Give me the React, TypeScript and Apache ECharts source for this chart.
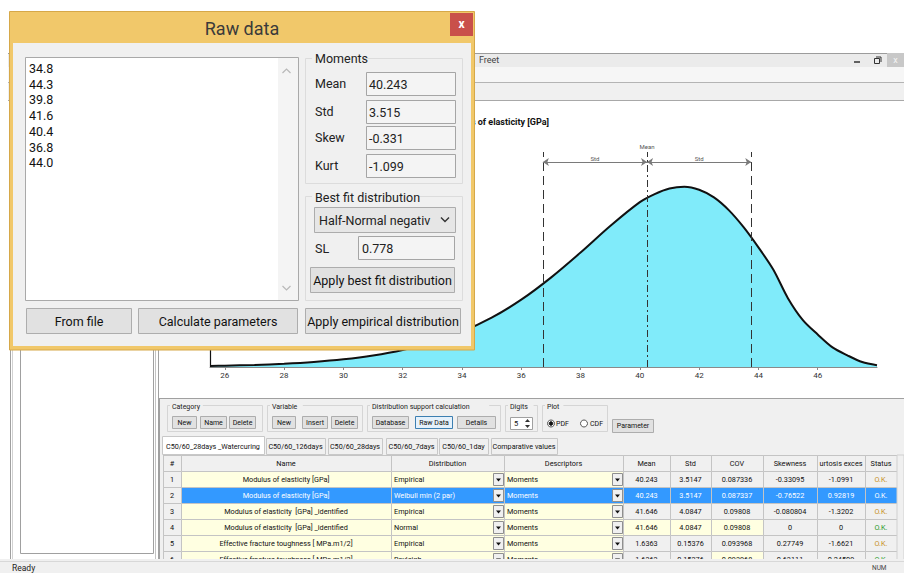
import React, { useEffect, useRef } from "react";
import * as echarts from "echarts";

// ---------- data ----------
const rawValues = ["34.8", "44.3", "39.8", "41.6", "40.4", "36.8", "44.0"];
const momentLabels = ["Mean", "Std", "Skew", "Kurt"];
const momentValues = ["40.243", "3.515", "-0.331", "-1.099"];
const meanValue = 40.243;
const stdValue = 3.515;
const bestFitName = "Half-Normal negativ";
const slValue = "0.778";
const chartTitle = "Modulus of elasticity [GPa]";

// density curve (x in GPa, relative density)
const curveX = [25.5, 26, 27, 28, 29, 30, 31, 32, 33, 34, 35, 36, 37, 38, 39, 40, 40.5, 41, 41.5, 42, 42.5, 43, 43.5, 44, 44.5, 45, 45.5, 46, 46.5, 47, 47.5, 48];
const curveY = [0.00067, 0.00085, 0.00137, 0.00216, 0.00335, 0.00512, 0.00769, 0.01136, 0.0165, 0.02356, 0.0329, 0.04496, 0.0597, 0.07645, 0.09415, 0.1101, 0.1155, 0.1192, 0.1204, 0.1184, 0.1133, 0.1048, 0.0934, 0.0799, 0.0651, 0.0458, 0.0313, 0.0217, 0.0131, 0.0078, 0.0033, 0.0012];
const xTickValues = [26, 28, 30, 32, 34, 36, 38, 40, 42, 44, 46];

const tabNames = ["C50/60_28days _Watercuring", "C50/60_126days", "C50/60_28days", "C50/60_7days", "C50/60_1day", "Comparative values"];
const tableHeaders = ["#", "Name", "Distribution", "Descriptors", "Mean", "Std", "COV", "Skewness", "urtosis exces", "Status"];
const rowNames = [
  "Modulus of elasticity [GPa]",
  "Modulus of elasticity [GPa]",
  "Modulus of elasticity  [GPa] _identified",
  "Modulus of elasticity  [GPa] _identified",
  "Effective fracture toughness [ MPa.m1/2]",
  "Effective fracture toughness [ MPa.m1/2]",
];
const rowDists = ["Empirical", "Weibull min (2 par)", "Empirical", "Normal", "Empirical", "Rayleigh"];
const rowDescr = ["Moments", "Moments", "Moments", "Moments", "Moments", "Moments"];
const rowMean = ["40.243", "40.243", "41.646", "41.646", "1.6363", "1.6363"];
const rowStd = ["3.5147", "3.5147", "4.0847", "4.0847", "0.15376", "0.15376"];
const rowCov = ["0.087336", "0.087337", "0.09808", "0.09808", "0.093968", "0.093968"];
const rowSkew = ["-0.33095", "-0.76522", "-0.080804", "0", "0.27749", "0.63111"];
const rowKurt = ["-1.0991", "0.92819", "-1.3202", "0", "-1.6621", "0.24509"];
const rowStatus = ["O.K.", "O.K.", "O.K.", "O.K.", "O.K.", "O.K."];
const selectedRow = 1;

// ---------- drawing helpers ----------
const FONT = "Roboto, 'Liberation Sans', Arial, sans-serif";

function buildGraphics() {
  const els: any[] = [];
  const R = (x: number, y: number, w: number, h: number, fill: string, stroke: string | null, z: number, lw = 1) =>
    els.push({ type: "rect", z, silent: true, shape: { x, y, width: w, height: h }, style: { fill, stroke: stroke ?? "none", lineWidth: lw } });
  const T = (x: number, y: number, t: string, size: number, fill: string, z: number, align = "left", weight = "normal") =>
    els.push({
      type: "text", z, silent: true, x, y,
      style: { text: t, font: `${weight} ${size}px ${FONT}`, fill, textAlign: align, textVerticalAlign: "middle", align, verticalAlign: "middle" },
    });
  const L = (x1: number, y1: number, x2: number, y2: number, stroke: string, z: number, lw = 1) =>
    els.push({ type: "line", z, silent: true, shape: { x1, y1, x2, y2 }, style: { stroke, lineWidth: lw } });
  const PL = (pts: number[][], stroke: string, z: number, lw = 1) =>
    els.push({ type: "polyline", z, silent: true, shape: { points: pts }, style: { stroke, lineWidth: lw, fill: "none" } });
  const PG = (pts: number[][], fill: string, z: number) =>
    els.push({ type: "polygon", z, silent: true, shape: { points: pts }, style: { fill } });
  const C = (cx: number, cy: number, r: number, fill: string, stroke: string, z: number) =>
    els.push({ type: "circle", z, silent: true, shape: { cx, cy, r }, style: { fill, stroke, lineWidth: 1 } });

  // ---- main "Freet" window chrome ----
  R(8, 53, 896, 14, "#ebebeb", null, 1);
  L(8, 53.5, 904, 53.5, "#9c9c9c", 2);
  T(479, 60, "Freet", 9, "#444", 2);
  L(854, 62, 860, 62, "#333", 2, 1.5);
  R(874.5, 58.5, 5, 5, "none", "#333", 2);
  PL([[876, 57], [881, 57], [881, 62]], "#333", 2);
  R(887, 53, 17, 14, "#c8c8c8", null, 2);
  T(895.5, 60, "x", 9, "#f4f4f4", 3, "center");
  R(8, 67, 896, 15, "#f6f6f6", null, 1);
  L(8, 82.5, 904, 82.5, "#b4b4b4", 2);
  R(8, 83, 896, 17, "#f0f0f0", null, 1);
  L(8, 100.5, 904, 100.5, "#a8a8a8", 2);

  // left frame and tree pane
  L(10.5, 100, 10.5, 561, "#a0a0a0", 2);
  L(12.5, 100, 12.5, 561, "#d2d2d2", 2);
  R(20.5, 100.5, 133, 453, "#ffffff", "#a0a0a0", 2);
  L(155.5, 100, 155.5, 560, "#c4c4c4", 2);
  L(158.5, 100, 158.5, 560, "#a0a0a0", 2);

  // chart title (partly hidden by the dialog)
  T(549, 122, chartTitle, 9, "#111", 3, "right", "bold");

  // ---- bottom control panel ----
  R(159, 398, 745, 162, "#f0f0f0", null, 1);
  L(159, 398.5, 904, 398.5, "#a0a0a0", 2);
  L(159.5, 398, 159.5, 560, "#a0a0a0", 2);

  const groupBox = (x: number, w: number, label: string) => {
    R(x + 0.5, 405.5, w, 26, "none", "#d5d5d5", 3);
    const lw = label.length * 3.6 + 4;
    R(x + 3, 402, lw, 8, "#f0f0f0", null, 4);
    T(x + 5, 406.5, label, 7, "#222", 5);
  };
  const smallBtn = (x: number, w: number, label: string, y = 416, h = 12, fill = "#e1e1e1", stroke = "#adadad") => {
    R(x + 0.5, y + 0.5, w, h, fill, stroke, 4);
    T(x + w / 2 + 0.5, y + h / 2 + 0.5, label, 7, "#111", 5, "center");
  };
  groupBox(167, 95, "Category");
  smallBtn(172, 24, "New");
  smallBtn(200, 26, "Name");
  smallBtn(229, 26, "Delete");
  groupBox(267, 95, "Variable");
  smallBtn(272, 23, "New");
  smallBtn(302, 25, "Insert");
  smallBtn(331, 26, "Delete");
  groupBox(367, 133, "Distribution support calculation");
  smallBtn(372, 36, "Database");
  smallBtn(415, 37, "Raw Data", 416, 12, "#e5f1fb", "#3c7fb1");
  smallBtn(457, 38, "Details");
  groupBox(505, 32, "Digits");
  R(510.5, 417.5, 22, 12, "#ffffff", "#a0a0a0", 4);
  T(514, 423.5, "5", 7.5, "#111", 5);
  PG([[525, 422], [527.5, 419], [530, 422]], "#333", 5);
  PG([[525, 425], [527.5, 428], [530, 425]], "#333", 5);
  groupBox(542, 65, "Plot");
  C(551, 423.5, 3.5, "#ffffff", "#555", 4);
  C(551, 423.5, 1.8, "#111", "#111", 5);
  T(556, 423.5, "PDF", 7, "#111", 5);
  C(584, 423.5, 3.5, "#ffffff", "#555", 4);
  T(590, 423.5, "CDF", 7, "#111", 5);
  smallBtn(612, 41, "Parameter", 419, 13);

  // tabs
  const tabEdges = [[162, 264], [266, 325], [328, 382], [386, 437], [439, 488], [491, 557]];
  tabNames.forEach((name, i) => {
    const [a, b] = tabEdges[i];
    if (i === 0) R(a + 0.5, 436.5, b - a, 18, "#ffffff", "#c8c8c8", 4);
    else R(a + 0.5, 438.5, b - a, 16, "#f0f0f0", "#c8c8c8", 4);
    T((a + b) / 2, 446, name, 7.2, "#111", 5, "center");
  });

  // table
  const colEdges = [163, 181, 391, 504, 623, 670, 711, 763, 817, 865, 897];
  R(163.5, 455.5, 734, 105, "#ffffff", "#8f8f8f", 10);
  tableHeaders.forEach((h, c) => {
    const a = colEdges[c], b = colEdges[c + 1];
    R(a + 0.5, 455.5, b - a, 16, "#f0f0f0", "#c4c4c4", 11);
    T((a + b) / 2, 463.5, h, 7.3, "#111", 12, "center");
  });
  const YEL = "#ffffe1", GRAY = "#f0f0f0", BLUE = "#3399ff";
  const statusColor = ["#c8901e", "#ffffff", "#c8901e", "#2a9a2a", "#c8901e", "#2a9a2a"];
  rowNames.forEach((name, r) => {
    const y = 471.5 + r * 16;
    const sel = r === selectedRow;
    const txt = sel ? "#ffffff" : "#111";
    const cells = [String(r + 1), name, rowDists[r], rowDescr[r], rowMean[r], rowStd[r], rowCov[r], rowSkew[r], rowKurt[r], rowStatus[r]];
    cells.forEach((v, c) => {
      const a = colEdges[c], b = colEdges[c + 1];
      let fill = GRAY;
      if (c === 1 || c === 2 || c === 3) fill = YEL;
      if (r === 3 && (c === 4 || c === 5 || c === 6)) fill = YEL;
      if (r === 5 && c === 6) fill = YEL;
      if (sel && c > 0) fill = BLUE;
      R(a + 0.5, y, b - a, 16, fill, "#c4c4c4", 11);
      let color = c === 0 ? "#111" : txt;
      if (c === 9) color = statusColor[r];
      if (c === 2 || c === 3) {
        T(a + 3, y + 8, v, 7.3, color, 12, "left");
        R(b - 10.5, y + 2, 10, 12, "#f0f0f0", "#8f8f8f", 12);
        PG([[b - 8, y + 7], [b - 3, y + 7], [b - 5.5, y + 10]], "#111", 13);
      } else {
        T((a + b) / 2, y + 8, v, 7.3, color, 12, "center");
      }
    });
  });
  R(897, 455, 7, 105, "#f0f0f0", "#d0d0d0", 11);

  // status bar (covers the cut-off last row)
  R(0, 559, 904, 14, "#f0f0f0", null, 20);
  L(0, 561.5, 904, 561.5, "#d8d8d8", 21);
  T(12, 568, "Ready", 8.5, "#222", 21);
  T(872, 568, "NUM", 6.5, "#444", 21);

  // ---- "Raw data" dialog ----
  const Z = 100;
  R(9.5, 11.5, 465, 338.5, "#f1c86a", "#d6a849", Z);
  R(13, 43, 458, 303, "#f0f0f0", null, Z + 1);
  T(242, 28, "Raw data", 18, "#3a3a3a", Z + 2, "center");
  R(450, 13, 23, 23, "#c9504a", null, Z + 2);
  T(461.5, 24, "x", 12, "#ffffff", Z + 3, "center", "bold");

  // list box with raw values
  R(25.5, 57.5, 273, 243, "#ffffff", "#a9a9a9", Z + 2);
  R(278, 58, 20, 242, "#f4f4f4", null, Z + 3);
  PL([[282.5, 73], [286.5, 69], [290.5, 73]], "#b8b8b8", Z + 4, 1.2);
  PL([[282.5, 286], [286.5, 290], [290.5, 286]], "#b8b8b8", Z + 4, 1.2);
  rawValues.forEach((v, i) => T(29, 68.5 + i * 15.7, v, 12.5, "#111", Z + 4));

  // Moments group
  R(305.5, 58.5, 157, 125, "none", "#dcdcdc", Z + 2);
  R(312, 51, 52, 14, "#f0f0f0", null, Z + 3);
  T(315, 58, "Moments", 12.5, "#222", Z + 4);
  const rowLabelY = [83, 111, 137, 165];
  const boxY = [72, 100, 126, 154];
  momentLabels.forEach((lab, i) => {
    T(315, rowLabelY[i], lab, 12.5, "#222", Z + 4);
    R(366.5, boxY[i] + 0.5, 89, 23, "#f4f4f4", "#a5a5a5", Z + 3);
    T(369, boxY[i] + 12, momentValues[i], 12.5, "#222", Z + 4);
  });

  // Best fit group
  R(305.5, 196.5, 157, 104, "none", "#dcdcdc", Z + 2);
  R(312, 190, 106, 14, "#f0f0f0", null, Z + 3);
  T(315, 197, "Best fit distribution", 12.5, "#222", Z + 4);
  R(314.5, 207.5, 141, 25, "#e6e6e6", "#acacac", Z + 3);
  T(319, 220, bestFitName, 12.5, "#222", Z + 4);
  PL([[441, 217.5], [445, 221.5], [449, 217.5]], "#333", Z + 4, 1.4);
  T(315, 248, "SL", 12.5, "#222", Z + 4);
  R(358.5, 236.5, 96, 23, "#f4f4f4", "#a5a5a5", Z + 3);
  T(362, 248, slValue, 12.5, "#222", Z + 4);
  R(310.5, 267.5, 144, 25, "#e1e1e1", "#adadad", Z + 3);
  T(382.5, 280, "Apply best fit distribution", 12.5, "#111", Z + 4, "center");

  // bottom buttons
  const bigBtn = (x: number, w: number, label: string) => {
    R(x + 0.5, 308.5, w, 25, "#e1e1e1", "#adadad", Z + 3);
    T(x + w / 2 + 0.5, 321, label, 12.5, "#111", Z + 4, "center");
  };
  bigBtn(26, 105, "From file");
  bigBtn(138, 159, "Calculate parameters");
  bigBtn(305, 155, "Apply empirical distribution");

  return els;
}

function buildOption() {
  const arrowY = 0.1369;
  const lower = +(meanValue - stdValue).toFixed(3);
  const upper = +(meanValue + stdValue).toFixed(3);
  const dimLine = (a: number, b: number) => [
    {
      coord: [a, arrowY], symbol: "arrow", symbolSize: 6,
      lineStyle: { type: "solid", color: "#7a7a7a", width: 1 },
      label: { show: true, position: "insideMiddleTop", formatter: "Std", fontSize: 6, color: "#555", distance: 1, fontFamily: FONT },
    },
    { coord: [b, arrowY], symbol: "arrow", symbolSize: 6 },
  ];
  return {
    animation: false,
    backgroundColor: "#ffffff",
    grid: { left: 210, right: 27, top: 152, bottom: 206, containLabel: false },
    xAxis: {
      type: "value", min: 25.5, max: 48,
      axisLine: { show: true, onZero: false, lineStyle: { color: "#8a8a8a", width: 1 } },
      axisTick: { show: true, customValues: xTickValues, length: 3, lineStyle: { color: "#8a8a8a" } },
      axisLabel: { customValues: xTickValues, fontSize: 8, color: "#333", margin: 4, fontFamily: FONT },
      splitLine: { show: false },
    },
    yAxis: {
      type: "value", min: 0, max: 0.1436,
      axisLine: { show: true, lineStyle: { color: "#111", width: 1.2 } },
      axisTick: { show: false }, axisLabel: { show: false }, splitLine: { show: false },
    },
    series: [
      {
        type: "line",
        data: curveX.map((x, i) => [x, curveY[i]]),
        smooth: 0.3,
        showSymbol: false,
        symbol: "none",
        lineStyle: { color: "#111", width: 2 },
        areaStyle: { color: "#80ebfa", opacity: 1 },
        z: 2,
        markLine: {
          silent: true,
          animation: false,
          symbol: ["none", "none"],
          data: [
            { xAxis: lower, lineStyle: { type: [9, 5], color: "#333", width: 1 }, label: { show: false } },
            { xAxis: upper, lineStyle: { type: [9, 5], color: "#333", width: 1 }, label: { show: false } },
            {
              xAxis: meanValue, lineStyle: { type: [7, 3, 2, 3], color: "#333", width: 1 },
              label: { show: true, position: "end", formatter: "Mean", fontSize: 6, color: "#555", distance: 3, fontFamily: FONT },
            },
            dimLine(lower, meanValue),
            dimLine(meanValue, upper),
          ],
        },
      },
    ],
    graphic: { elements: buildGraphics() },
  };
}

export default function App() {
  const ref = useRef<HTMLDivElement>(null);
  useEffect(() => {
    document.body.style.margin = "0";
    const chart = echarts.init(ref.current!, undefined, { renderer: "svg" });
    chart.setOption(buildOption() as any);
    return () => chart.dispose();
  }, []);
  return (
    <div
      ref={ref}
      style={{ position: "absolute", left: 0, top: 0, width: 904, height: 573, background: "#ffffff" }}
    />
  );
}
